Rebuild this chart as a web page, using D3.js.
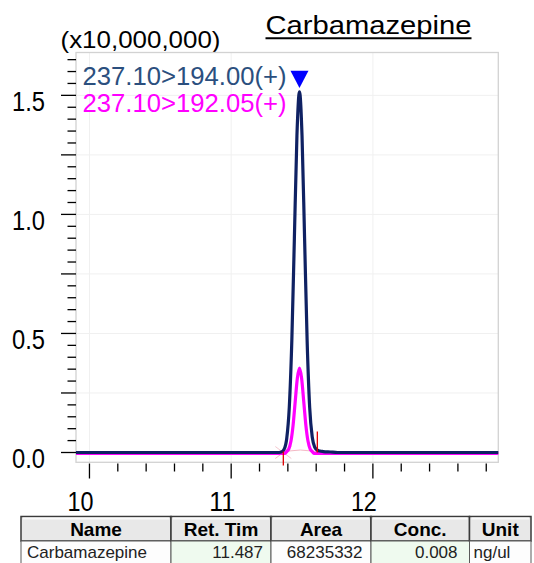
<!DOCTYPE html>
<html>
<head>
<meta charset="utf-8">
<script src="https://cdn.jsdelivr.net/npm/d3@7"></script>
<style>
  body { margin: 0; background: #fff; }
  text { font-family: "Liberation Sans", Arial, sans-serif; }
</style>
</head>
<body>
<script>
// trace 237.10>194.00 (blue)
const blueTime = [9.905, 11.300, 11.338, 11.356, 11.374, 11.392, 11.410, 11.428, 11.446, 11.464, 11.482,
                  11.500, 11.518, 11.536, 11.554, 11.572, 11.590, 11.608, 11.626, 11.650, 11.700, 11.750, 12.885];
const blueVal  = [0, 0, 0, 0.0026, 0.014, 0.059, 0.189, 0.470, 0.900, 1.330, 1.515,
                  1.330, 0.900, 0.470, 0.189, 0.065, 0.022, 0.010, 0.006, 0.004, 0.002, 0, 0];
// trace 237.10>192.05 (magenta)
const pinkTime = [9.905, 11.340, 11.377, 11.392, 11.407, 11.422, 11.437, 11.452, 11.467, 11.482,
                  11.497, 11.512, 11.527, 11.542, 11.557, 11.572, 11.587, 11.620, 12.885];
const pinkVal  = [-0.004, -0.004, -0.004, 0.004, 0.0155, 0.048, 0.115, 0.215, 0.312, 0.354,
                  0.312, 0.215, 0.115, 0.048, 0.0155, 0.004, -0.004, -0.004, -0.004];

const traceLabels = ["237.10>194.00(+)", "237.10>192.05(+)"];
const title = "Carbamazepine";
const yMultiplier = "(x10,000,000)";
const yLabels = [0, 0.5, 1.0, 1.5];
const xLabels = [10, 11, 12];
const retTime = 11.482;
const peakStart = 11.368, peakEnd = 11.608;

const tableHead = ["Name", "Ret. Tim", "Area", "Conc.", "Unit"];
const tableRow  = ["Carbamazepine", "11.487", "68235332", "0.008", "ng/ul"];

const W = 534, H = 563;
const plot = {left: 76, top: 52.5, right: 498.3, bottom: 462.3};

const x = d3.scaleLinear().domain([9.905, 12.885]).range([plot.left, plot.right]);
const y = d3.scaleLinear().domain([0, 1.68]).range([452.5, 452.5 - 1.68 * 238.1]);

const svg = d3.select("body").append("svg")
  .attr("width", W).attr("height", H);

// title + multiplier
svg.append("text").attr("x", 265.5).attr("y", 34)
  .attr("font-size", 26).attr("textLength", 206).attr("lengthAdjust", "spacingAndGlyphs")
  .text(title);
svg.append("line").attr("x1", 265.5).attr("x2", 471.5).attr("y1", 38.3).attr("y2", 38.3)
  .attr("stroke", "#000").attr("stroke-width", 2);
svg.append("text").attr("x", 60.5).attr("y", 47.5)
  .attr("font-size", 24).attr("textLength", 160).attr("lengthAdjust", "spacingAndGlyphs")
  .text(yMultiplier);

// grid
const g = svg.append("g");
g.selectAll("line.hg").data(d3.range(0.25, 1.68, 0.25)).enter().append("line")
  .attr("x1", plot.left).attr("x2", plot.right)
  .attr("y1", d => y(d)).attr("y2", d => y(d))
  .attr("stroke", "#f0f0f0").attr("stroke-width", 1);
g.selectAll("line.vg").data(xLabels).enter().append("line")
  .attr("x1", d => x(d)).attr("x2", d => x(d))
  .attr("y1", plot.top).attr("y2", plot.bottom)
  .attr("stroke", "#f0f0f0").attr("stroke-width", 1);

// frame
svg.append("rect").attr("x", plot.left).attr("y", plot.top)
  .attr("width", plot.right - plot.left).attr("height", plot.bottom - plot.top)
  .attr("fill", "none").attr("stroke", "#d2d2d2").attr("stroke-width", 1.3);

// y axis ticks
const yMinor = d3.range(0, 34).map(i => +(i * 0.05).toFixed(2));
svg.selectAll("line.yt").data(yMinor).enter().append("line")
  .attr("x1", d => (Math.round(d * 100) % 25 === 0) ? 61 : 67.5).attr("x2", 76)
  .attr("y1", d => y(d)).attr("y2", d => y(d))
  .attr("stroke", "#000").attr("stroke-width", 1.3);
svg.selectAll("text.yl").data(yLabels).enter().append("text")
  .attr("x", 45).attr("y", d => y(d) + 15.5)
  .attr("text-anchor", "end").attr("font-size", 27)
  .attr("textLength", 33).attr("lengthAdjust", "spacingAndGlyphs")
  .text(d => d.toFixed(1));

// x axis ticks
const xMinor = d3.range(0, 15).map(i => +(10 + i * 0.2).toFixed(1));
svg.selectAll("line.xt").data(xMinor).enter().append("line")
  .attr("x1", d => x(d)).attr("x2", d => x(d))
  .attr("y1", 463.5).attr("y2", d => Number.isInteger(d) ? 478.5 : 471.5)
  .attr("stroke", "#000").attr("stroke-width", 1.3);
svg.selectAll("text.xl").data(xLabels).enter().append("text")
  .attr("x", d => x(d) - 9).attr("y", 511)
  .attr("text-anchor", "middle").attr("font-size", 27)
  .attr("textLength", 26).attr("lengthAdjust", "spacingAndGlyphs")
  .text(d => d);

// integration marks
svg.append("path")
  .attr("d", `M${x(peakStart)},${y(0) - 1}Q${(x(peakStart) + x(peakEnd)) / 2},${y(0) - 4} ${x(peakEnd)},${y(0) - 1}`)
  .attr("fill", "none").attr("stroke", "#f4b8c4").attr("stroke-width", 1);
svg.append("line").attr("x1", x(peakStart) - 8).attr("x2", x(peakStart) + 8)
  .attr("y1", y(0) + 6).attr("y2", y(0) - 6).attr("stroke", "#f4b8c4").attr("stroke-width", 1);
svg.append("line").attr("x1", x(peakStart) - 8).attr("x2", x(peakStart) + 8)
  .attr("y1", y(0) - 6).attr("y2", y(0) + 6).attr("stroke", "#f4c8d0").attr("stroke-width", 1);

const line = d3.line().x(d => x(d[0])).y(d => y(d[1])).curve(d3.curveMonotoneX);
svg.append("path").datum(pinkTime.map((t, i) => [t, pinkVal[i]]))
  .attr("d", line).attr("fill", "none").attr("stroke", "#ff00ff").attr("stroke-width", 3.2);
svg.append("path").datum(blueTime.map((t, i) => [t, blueVal[i]]))
  .attr("d", line).attr("fill", "none").attr("stroke", "#0f2163").attr("stroke-width", 3.2)
  .attr("stroke-linejoin", "round");

svg.append("line").attr("x1", x(peakStart)).attr("x2", x(peakStart))
  .attr("y1", y(0) - 1).attr("y2", y(0) + 13).attr("stroke", "#e00000").attr("stroke-width", 1.3);
svg.append("line").attr("x1", x(peakEnd)).attr("x2", x(peakEnd))
  .attr("y1", y(0) - 21).attr("y2", y(0)).attr("stroke", "#e00000").attr("stroke-width", 1.3);

// peak marker
const tx = x(retTime);
svg.append("path").attr("d", `M${tx - 9},70.8L${tx + 9},70.8L${tx},88Z`).attr("fill", "#0000ff");

// trace labels
const labelColors = ["#2b4f7e", "#ff00ff"];
svg.selectAll("text.tl").data(traceLabels).enter().append("text")
  .attr("x", 82.5).attr("y", (d, i) => 84.5 + i * 27.9)
  .attr("font-size", 26).attr("fill", (d, i) => labelColors[i])
  .attr("textLength", 204).attr("lengthAdjust", "spacingAndGlyphs")
  .text(d => d);

// result table
const colX = [21, 171, 271, 371, 469.5, 531];
const headY = 516.5, headH = 24.5, rowY = 541, rowH = 24;
const rowFill = ["#fdfdfd", "#effaef", "#fdfdfd", "#effaef", "#fdfdfd"];
const tb = svg.append("g");
tableHead.forEach((h, i) => {
  const x0 = colX[i], x1 = colX[i + 1];
  tb.append("rect").attr("x", x0).attr("y", headY).attr("width", x1 - x0).attr("height", headH)
    .attr("fill", "#e8e8e8").attr("stroke", "#3a3a3a").attr("stroke-width", 1.5);
  tb.append("line").attr("x1", x0 + 2).attr("x2", x1 - 2).attr("y1", headY + 2).attr("y2", headY + 2)
    .attr("stroke", "#fafafa").attr("stroke-width", 2);
  tb.append("text").attr("x", (x0 + x1) / 2).attr("y", headY + 19)
    .attr("text-anchor", "middle").attr("font-size", 19).attr("font-weight", "bold").text(h);
  tb.append("rect").attr("x", x0).attr("y", rowY).attr("width", x1 - x0).attr("height", rowH)
    .attr("fill", rowFill[i]).attr("stroke", "#5a5a5a").attr("stroke-width", 1);
});
const cellText = [
  {x: 27, a: "start"}, {x: 263, a: "end"}, {x: 362.5, a: "end"}, {x: 457.5, a: "end"}, {x: 473.5, a: "start"}
];
tableRow.forEach((v, i) => {
  tb.append("text").attr("x", cellText[i].x).attr("y", 558.3)
    .attr("text-anchor", cellText[i].a).attr("font-size", 17).attr("fill", "#222").text(v);
});
</script>
</body>
</html>
